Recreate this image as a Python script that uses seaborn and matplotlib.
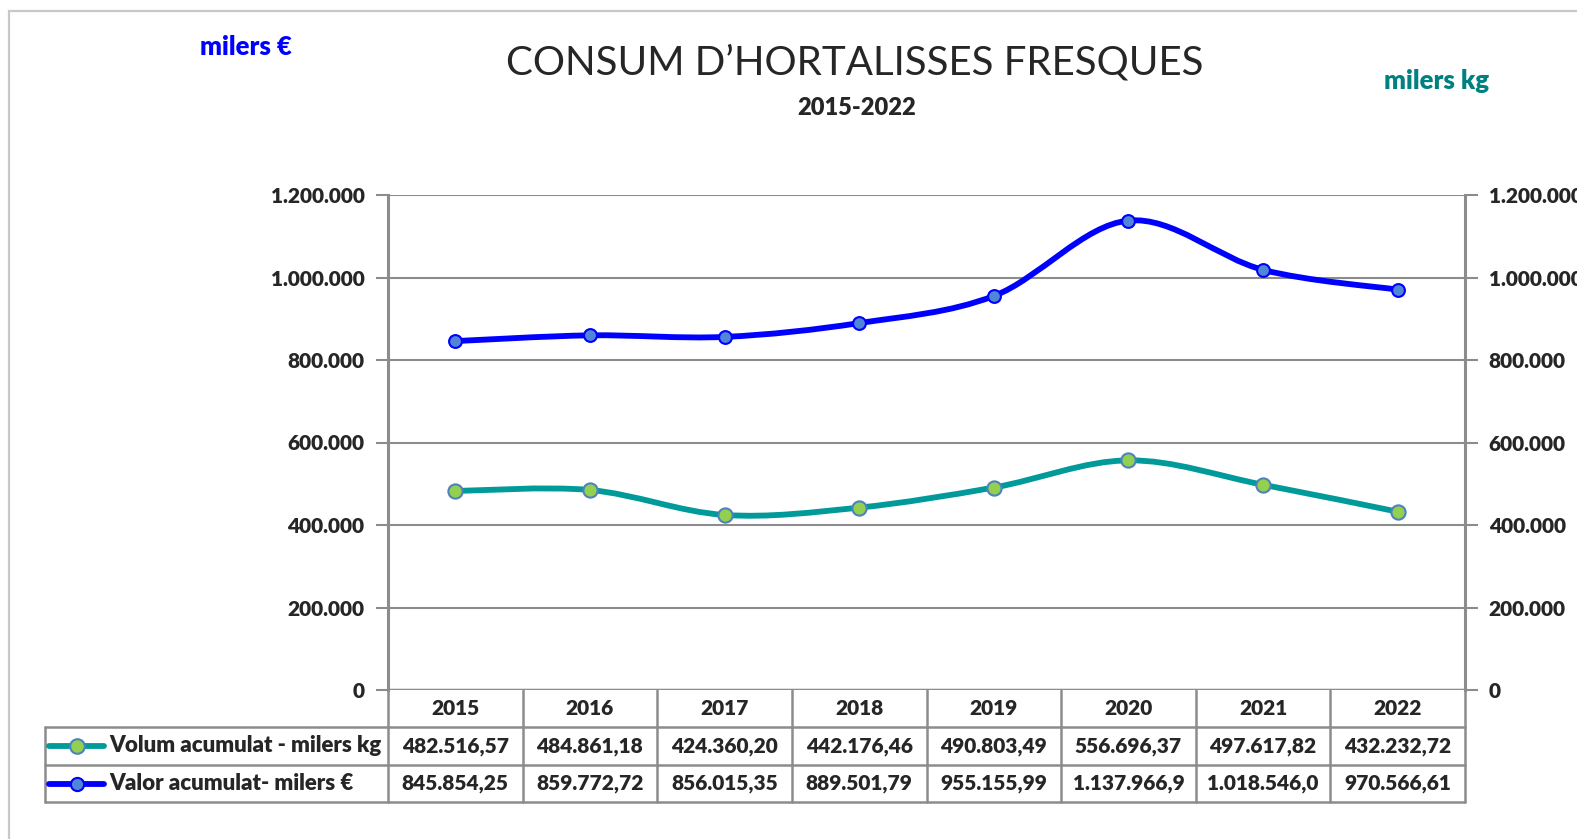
import numpy as np
import pandas as pd
import matplotlib
matplotlib.use("Agg")
import matplotlib.pyplot as plt
import seaborn as sns
from matplotlib.path import Path
from matplotlib.patches import PathPatch, Rectangle
from matplotlib.lines import Line2D
from matplotlib.transforms import blended_transform_factory

# %% Data
years = ['2015', '2016', '2017', '2018', '2019', '2020', '2021', '2022']
volum = [482516.57, 484861.18, 424360.20, 442176.46, 490803.49, 556696.37, 497617.82, 432232.72]
valor = [845854.25, 859772.72, 856015.35, 889501.79, 955155.99, 1137966.9, 1018546.0, 970566.61]
series_names = ['Volum acumulat - milers kg', 'Valor acumulat- milers €']
y_ticks = [0, 200000, 400000, 600000, 800000, 1000000, 1200000]

# %% Style
sns.set_style("white")
plt.rcParams['font.family'] = ['Lato', 'DejaVu Sans']

TEAL = '#009a9a'
BLUE = '#0000ff'
GRID = '#8c8c8c'
BOLD = 'heavy'
FS = 15
W, H = 1577, 839


def fmt_es(v, dec=0):
    s = f"{v:,.{dec}f}"
    return s.replace(",", "X").replace(".", ",").replace("X", ".")


def smooth_path(xs, ys):
    # Excel-like smoothed line: cubic bezier through every point
    xs, ys = np.asarray(xs, float), np.asarray(ys, float)
    n = len(xs)
    verts = [(xs[0], ys[0])]
    codes = [Path.MOVETO]
    for i in range(n - 1):
        p0 = (xs[max(i - 1, 0)], ys[max(i - 1, 0)])
        p1 = (xs[i], ys[i])
        p2 = (xs[i + 1], ys[i + 1])
        p3 = (xs[min(i + 2, n - 1)], ys[min(i + 2, n - 1)])
        c1 = (p1[0] + (p2[0] - p0[0]) / 6, p1[1] + (p2[1] - p0[1]) / 6)
        c2 = (p2[0] - (p3[0] - p1[0]) / 6, p2[1] - (p3[1] - p1[1]) / 6)
        verts += [c1, c2, p2]
        codes += [Path.CURVE4] * 3
    return Path(verts, codes)


df = pd.DataFrame({'year': years, 'x': np.arange(len(years)), 'volum': volum, 'valor': valor})

fig = plt.figure(figsize=(W / 100, H / 100), dpi=100)
ax_l, ax_r, ax_t, ax_b = 388 / W, 1465 / W, 1 - 195 / H, 1 - 690 / H
ax = fig.add_axes([ax_l, ax_b, ax_r - ax_l, ax_t - ax_b])
ax2 = ax.twinx()

# outer chart frame (cut at right/bottom)
fig.patches.append(Rectangle((9 / W, -0.2), 2, 1 - 11 / H + 0.2, transform=fig.transFigure,
                             fill=False, edgecolor='#c8c8c8', linewidth=1.6, zorder=0))

# valor on the left axis
ax.add_patch(PathPatch(smooth_path(df['x'], df['valor']), fill=False, edgecolor=BLUE,
                       linewidth=4.2, capstyle='round', zorder=4))
sns.scatterplot(data=df, x='x', y='valor', ax=ax, s=85, color='#4f86d8',
                edgecolor=BLUE, linewidth=1.5, zorder=5, legend=False)
# volum on the right axis
ax2.add_patch(PathPatch(smooth_path(df['x'], df['volum']), fill=False, edgecolor=TEAL,
                        linewidth=4.2, capstyle='round', zorder=4))
sns.scatterplot(data=df, x='x', y='volum', ax=ax2, s=105, color='#92d050',
                edgecolor='#4f81bd', linewidth=1.5, zorder=5, legend=False)

for a in (ax, ax2):
    a.set_xlim(-0.5, len(years) - 0.5)
    a.set_ylim(0, 1200000)
    a.set_yticks(y_ticks)
    a.set_yticklabels([fmt_es(v) for v in y_ticks], fontsize=FS, fontweight=BOLD)
    for s in a.spines.values():
        s.set_visible(False)
    a.tick_params(axis='y', length=9, width=1.5, color=GRID, pad=8)
    a.set_xticks([])
    a.set_ylabel('')
    a.set_xlabel('')

ax.grid(axis='y', color=GRID, linewidth=1.5)
ax.spines['left'].set_visible(True)
ax.spines['left'].set_color(GRID)
ax.spines['left'].set_linewidth(2.2)
ax2.spines['right'].set_visible(True)
ax2.spines['right'].set_color(GRID)
ax2.spines['right'].set_linewidth(2.2)
ax.axhline(0, color=GRID, linewidth=2.5, zorder=3)

# titles
fig.text(855 / W, 1 - 63 / H, 'CONSUM D’HORTALISSES FRESQUES', ha='center', va='center', fontsize=29)
fig.text(857 / W, 1 - 108 / H, '2015-2022', ha='center', va='center', fontsize=17, fontweight=BOLD)
fig.text(246 / W, 1 - 47 / H, 'milers €', ha='center', va='center', fontsize=18.5,
         fontweight=BOLD, color=BLUE)
fig.text(1437 / W, 1 - 81 / H, 'milers kg', ha='center', va='center', fontsize=18.5,
         fontweight=BOLD, color='#008080')

# data table
row_y = [690, 727, 765, 802]
tbl_left = 45 / W
fy = [1 - v / H for v in row_y]
col_edges = [ax_l + i * (ax_r - ax_l) / len(years) for i in range(len(years) + 1)]
lk = dict(transform=fig.transFigure, color=GRID, linewidth=1.8, clip_on=False)
fig.lines.append(Line2D([tbl_left, ax_r], [fy[1], fy[1]], **lk))
fig.lines.append(Line2D([tbl_left, ax_r], [fy[2], fy[2]], **lk))
fig.lines.append(Line2D([tbl_left, ax_r], [fy[3], fy[3]], **lk))
fig.lines.append(Line2D([tbl_left, tbl_left], [fy[1], fy[3]], **lk))
for xe in col_edges:
    fig.lines.append(Line2D([xe, xe], [fy[0], fy[3]], **lk))

bt = blended_transform_factory(ax.transData, fig.transFigure)
mid = [(fy[i] + fy[i + 1]) / 2 for i in range(3)]
for i, yr in enumerate(years):
    ax.text(i, mid[0], yr, transform=bt, ha='center', va='center', fontsize=FS,
            fontweight=BOLD, clip_on=False)
    # the narrow cells cut the longest numbers
    ax.text(i, mid[1], fmt_es(volum[i], 2)[:11], transform=bt, ha='center', va='center',
            fontsize=FS, fontweight=BOLD, clip_on=False)
    ax.text(i, mid[2], fmt_es(valor[i], 2)[:11], transform=bt, ha='center', va='center',
            fontsize=FS, fontweight=BOLD, clip_on=False)

# legend keys inside the row labels
for yy, c, face, edge, ms, name in [(mid[1], TEAL, '#92d050', '#4f81bd', 10.5, series_names[0]),
                                    (mid[2], BLUE, '#4f86d8', BLUE, 9.5, series_names[1])]:
    fig.lines.append(Line2D([49 / W, 104 / W], [yy, yy], transform=fig.transFigure, color=c,
                            linewidth=4.2, solid_capstyle='round'))
    fig.lines.append(Line2D([77 / W], [yy], transform=fig.transFigure, marker='o', markersize=ms,
                            markerfacecolor=face, markeredgecolor=edge, markeredgewidth=1.5))
    fig.text(109 / W, yy, name, ha='left', va='center', fontsize=FS + 1, fontweight=BOLD)

fig.savefig('out.png', dpi=100)
